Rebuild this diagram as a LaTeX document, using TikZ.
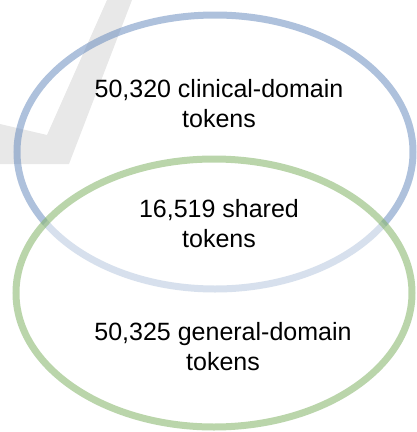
\documentclass[tikz,border=0pt]{standalone}
\usepackage{fontspec}
\setmainfont{Liberation Sans}
\usepackage{tikz}
\definecolor{setblue}{HTML}{6C8EBF}
\definecolor{setgreen}{HTML}{82B366}
\definecolor{markgrey}{gray}{0.91}

\begin{document}
\begin{tikzpicture}[x=1pt,y=-1pt,
        lbl/.style={inner sep=0pt,align=center,font=\fontsize{25}{30}\selectfont}]
                \useasboundingbox (0,0) rectangle (417,432);
                \fill [markgrey] (107,0) -- (132,0) -- (69,164) -- (0,164) -- (0,124) -- (47,135) -- cycle;
                \draw [setblue,draw opacity=0.55,line width=7pt] (215,152) ellipse [x radius=198,y radius=137];
                \draw [setgreen,draw opacity=0.55,fill=white,fill opacity=0.5,line width=7pt] (214,293) ellipse [x radius=198,y radius=134];
                \node [lbl] (clinical) at (219,104) {50,320 clinical-domain\\tokens};
                \node [lbl] (shared) at (219,224) {16,519 shared\\tokens};
                \node [lbl] (general) at (223,347) {50,325 general-domain\\tokens};
            \end{tikzpicture}
\end{document}
